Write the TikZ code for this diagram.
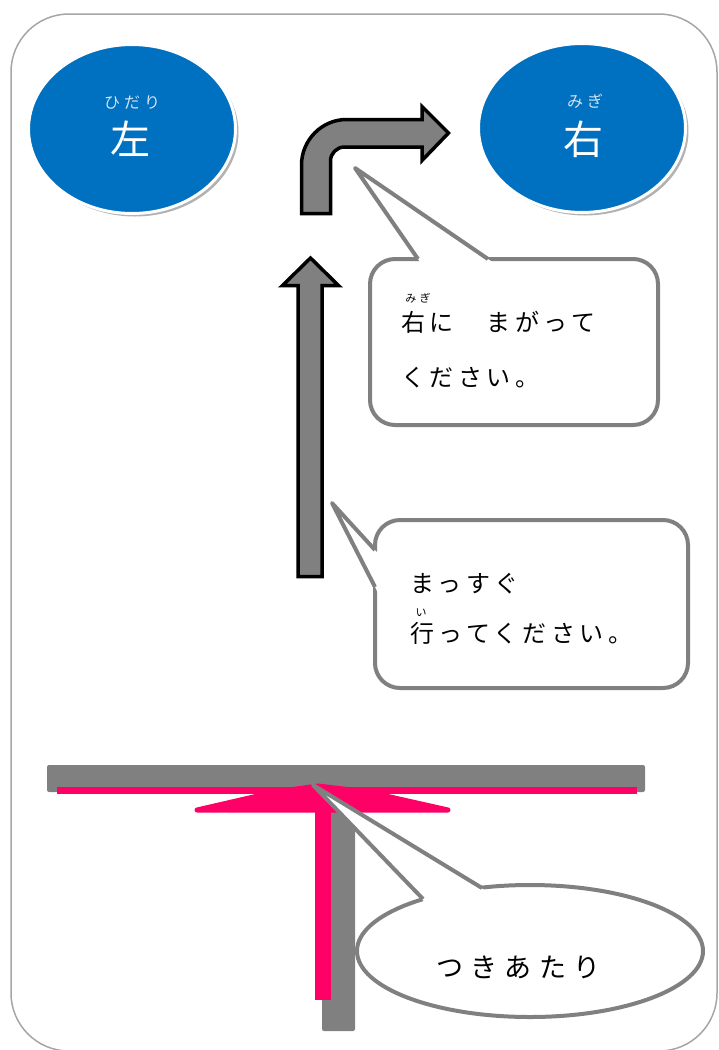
\documentclass[tikz,border=0pt]{standalone}
\usepackage{fontspec}
\usetikzlibrary{shapes.geometric,shadows}
\newfontfamily\jpbody{Noto Sans CJK JP}[LetterSpace=19]
\newfontfamily\jptsuki{Noto Sans CJK JP}[LetterSpace=27]
\newfontfamily\jpruby{Noto Sans CJK JP}[LetterSpace=25]
\newfontfamily\jprubys{Noto Sans CJK JP}[LetterSpace=30]
\newfontfamily\jpplain{Noto Sans CJK JP}
\definecolor{bluec}{HTML}{0070C0}
\definecolor{grayc}{HTML}{808080}
\definecolor{pinkc}{HTML}{FF0066}
\definecolor{framec}{HTML}{A6A6A6}
\definecolor{rubyc}{HTML}{D2E3F3}
\tikzset{
  frameline/.style={draw=framec, line width=1.5pt, rounded corners=58pt},
  blueell/.style={ellipse, fill=bluec, draw=white, line width=3pt,
    minimum width=207pt, minimum height=169pt, inner sep=0pt,
    drop shadow={shadow xshift=3pt, shadow yshift=-3pt, opacity=0.3, fill=black}},
  blockarrow/.style={fill=grayc, draw=black, line width=3.5pt},
  callout/.style={fill=white, draw=grayc, line width=4pt},
  tailline/.style={draw=grayc, line width=4pt, line join=round},
  bodytext/.style={anchor=base west, inner sep=0pt, font=\jpbody\fontsize{24pt}{28pt}\selectfont},
  rubysmall/.style={anchor=base, inner sep=0pt, font=\jprubys\fontsize{11pt}{12pt}\selectfont},
  rubylarge/.style={anchor=base, inner sep=0pt, text=rubyc, font=\jpruby\fontsize{16pt}{18pt}\selectfont},
  kanjilarge/.style={anchor=base, inner sep=0pt, text=white, font=\jpplain\fontsize{40pt}{44pt}\selectfont},
}
\begin{document}
\begin{tikzpicture}[x=1pt,y=-1pt]
\useasboundingbox (0,0) rectangle (719,1050);
% outer frame
\draw[frameline] (11,14) rectangle (717,1051);

% left / right ellipses
\node[blueell] (leftell) at (132,129) {};
\node[rubylarge] (leftruby) at (132,108.7) {ひだり};
\node[kanjilarge] (leftkanji) at (130,154.2) {左};
\node[blueell] (rightell) at (582,128) {};
\node[rubylarge] (rightruby) at (585,107.7) {みぎ};
\node[kanjilarge] (rightkanji) at (583,154.2) {右};

% bent arrow
\draw[blockarrow] (301.5,213.5) -- (301.5,165)
  .. controls (301.5,140.2) and (321.7,119.5) .. (346.5,119.5)
  -- (422,119.5) -- (422,106.5) -- (448.5,133) -- (422,160.5) -- (422,147)
  -- (344.5,147) .. controls (336.8,147) and (330.5,153.3) .. (330.5,161)
  -- (330.5,213.5) -- cycle;

% straight arrow
\draw[blockarrow] (298,576.5) -- (298,285.5) -- (282.5,285.5) -- (310.5,258)
  -- (338.5,285.5) -- (322,285.5) -- (322,576.5) -- cycle;

% callout 1
\draw[callout, rounded corners=25pt] (370,259) rectangle (658,425);
\fill[white] (355,168) -- (420.1,262) -- (492.4,262) -- cycle;
\draw[tailline] (418,259) -- (355,168) -- (488,259);
\node[rubysmall] (c1ruby) at (418,302.2) {みぎ};
\node[bodytext] (c1a) at (401,331) {右に　まがって};
\node[bodytext] (c1b) at (401,386) {ください。};

% callout 2
\draw[callout, rounded corners=25pt] (375,520) rectangle (688,688);
\fill[white] (332,503) -- (379,554.4) -- (379,594.8) -- cycle;
\draw[tailline] (375,550) -- (332,503) -- (375,587);
\node[bodytext] (c2a) at (410,592) {まっすぐ};
\node[rubysmall] (c2ruby) at (421,616.2) {い};
\node[bodytext] (c2b) at (410,642) {行ってください。};

% T junction
\fill[grayc, rounded corners=2pt] (47,765) rectangle (645,792);
\fill[grayc, rounded corners=2pt] (322,790) rectangle (355,1031);
\fill[pinkc] (57,787) rectangle (637,794);
\filldraw[pinkc, line width=5pt, line join=round] (197,810) -- (275,792) -- (318,786) -- (368,792) -- (448,810) -- cycle;
\fill[pinkc] (315,792) rectangle (331,1000);

% callout 3
\node[callout, ellipse, minimum width=346pt, minimum height=132pt, inner sep=0pt] (c3) at (530,951) {};
\fill[white] (313,785) -- (425.5,903) -- (455,898) -- (486,891) -- cycle;
\draw[tailline] (423,899) -- (313,785) -- (482,888);
\node[anchor=base west, inner sep=0pt, font=\jptsuki\fontsize{27pt}{30pt}\selectfont] (c3text) at (436,977.3) {つきあたり};
\end{tikzpicture}
\end{document}
